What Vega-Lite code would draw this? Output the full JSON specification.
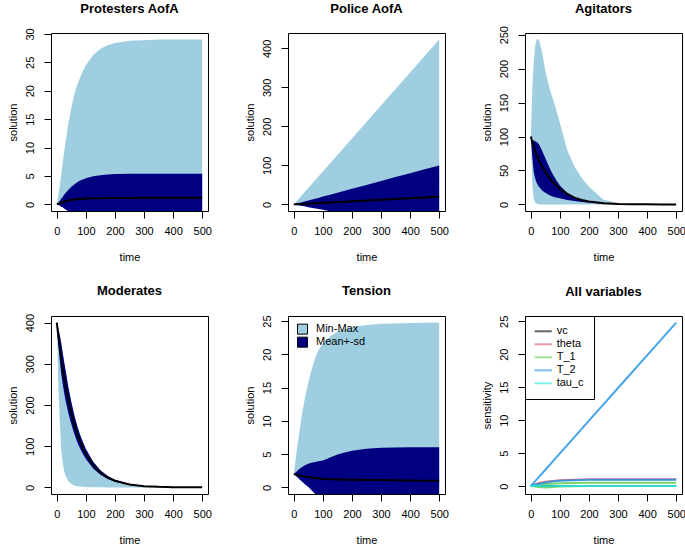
{
  "$schema": "https://vega.github.io/schema/vega-lite/v6.json",
  "autosize": {"type": "none"},
  "padding": {"left": 51, "top": 33, "right": 634, "bottom": 513},
  "background": "white",
  "bounds": "flush",
  "columns": 3,
  "spacing": {"row": 105, "column": 80},
  "resolve": {"scale": {"color": "independent"}, "legend": {"color": "independent"}},
  "datasets": {
    "p1": [
      {"t":0,"mn":0,"mx":0,"lo":0,"hi":0,"m":0},
      {"t":5,"mn":0,"mx":1.5,"lo":-0.1,"hi":0.3,"m":0.1},
      {"t":10,"mn":0,"mx":3.2,"lo":-0.2,"hi":0.6,"m":0.2},
      {"t":15,"mn":0,"mx":5.2,"lo":-0.4,"hi":1.0,"m":0.3},
      {"t":20,"mn":0,"mx":7.2,"lo":-0.5,"hi":1.3,"m":0.4},
      {"t":25,"mn":0,"mx":9.2,"lo":-0.74,"hi":1.7,"m":0.48},
      {"t":30,"mn":0,"mx":11,"lo":-0.9,"hi":2.0,"m":0.55},
      {"t":40,"mn":0,"mx":14.3,"lo":-1.2,"hi":2.6,"m":0.7},
      {"t":50,"mn":0,"mx":17,"lo":-1.5,"hi":3.1,"m":0.8},
      {"t":60,"mn":0,"mx":19.3,"lo":-1.76,"hi":3.5,"m":0.87},
      {"t":70,"mn":0,"mx":21,"lo":-2.06,"hi":3.9,"m":0.92},
      {"t":80,"mn":0,"mx":22.3,"lo":-2.26,"hi":4.2,"m":0.97},
      {"t":90,"mn":0,"mx":23.5,"lo":-2.4,"hi":4.4,"m":1.0},
      {"t":100,"mn":0,"mx":24.5,"lo":-2.54,"hi":4.6,"m":1.03},
      {"t":125,"mn":0,"mx":26.3,"lo":-2.81,"hi":4.95,"m":1.07},
      {"t":150,"mn":0,"mx":27.4,"lo":-2.95,"hi":5.15,"m":1.1},
      {"t":175,"mn":0,"mx":28,"lo":-3.01,"hi":5.25,"m":1.12},
      {"t":200,"mn":0,"mx":28.4,"lo":-3.09,"hi":5.35,"m":1.13},
      {"t":250,"mn":0,"mx":28.8,"lo":-3.12,"hi":5.4,"m":1.14},
      {"t":300,"mn":0,"mx":28.9,"lo":-3.1,"hi":5.4,"m":1.15},
      {"t":350,"mn":0,"mx":29,"lo":-3.1,"hi":5.4,"m":1.15},
      {"t":400,"mn":0,"mx":29,"lo":-3.1,"hi":5.4,"m":1.15},
      {"t":450,"mn":0,"mx":29,"lo":-3.1,"hi":5.4,"m":1.15},
      {"t":500,"mn":0,"mx":29,"lo":-3.1,"hi":5.4,"m":1.15}
    ],
    "p2": [
      {"t":0,"mn":0,"mx":0,"lo":0,"hi":0,"m":0},
      {"t":5,"mn":0,"mx":4.2,"lo":-0.7,"hi":1,"m":0.2},
      {"t":10,"mn":0,"mx":8.5,"lo":-1.4,"hi":2,"m":0.4},
      {"t":15,"mn":0,"mx":12.7,"lo":-2.1,"hi":3,"m":0.6},
      {"t":20,"mn":0,"mx":16.9,"lo":-2.8,"hi":4,"m":0.8},
      {"t":25,"mn":0,"mx":21.1,"lo":-3.5,"hi":5,"m":1},
      {"t":30,"mn":0,"mx":25.4,"lo":-4.2,"hi":6,"m":1.2},
      {"t":40,"mn":0,"mx":33.8,"lo":-5.6,"hi":8,"m":1.6},
      {"t":50,"mn":0,"mx":42.3,"lo":-7,"hi":10,"m":2},
      {"t":60,"mn":0,"mx":50.7,"lo":-8.4,"hi":12,"m":2.4},
      {"t":70,"mn":0,"mx":59.2,"lo":-9.8,"hi":14,"m":2.8},
      {"t":80,"mn":0,"mx":67.6,"lo":-11.2,"hi":16,"m":3.2},
      {"t":90,"mn":0,"mx":76.1,"lo":-12.6,"hi":18,"m":3.6},
      {"t":100,"mn":0,"mx":84.5,"lo":-14,"hi":20,"m":4},
      {"t":125,"mn":0,"mx":105.6,"lo":-17.5,"hi":25,"m":5},
      {"t":150,"mn":0,"mx":126.8,"lo":-21,"hi":30,"m":6},
      {"t":175,"mn":0,"mx":147.9,"lo":-24.5,"hi":35,"m":7},
      {"t":200,"mn":0,"mx":169,"lo":-28,"hi":40,"m":8},
      {"t":250,"mn":0,"mx":211.3,"lo":-35,"hi":50,"m":10},
      {"t":300,"mn":0,"mx":253.5,"lo":-42,"hi":60,"m":12},
      {"t":350,"mn":0,"mx":295.8,"lo":-49,"hi":70,"m":14},
      {"t":400,"mn":0,"mx":338,"lo":-56,"hi":80,"m":16},
      {"t":450,"mn":0,"mx":380.3,"lo":-63,"hi":90,"m":18},
      {"t":500,"mn":0,"mx":422.5,"lo":-70,"hi":100,"m":20}
    ],
    "p3": [
      {"t":0,"mn":100,"mx":100,"lo":100,"hi":100,"m":100},
      {"t":5,"mn":30,"mx":170,"lo":70,"hi":95,"m":92},
      {"t":10,"mn":8,"mx":210,"lo":48,"hi":94,"m":85},
      {"t":15,"mn":3,"mx":233,"lo":38,"hi":93,"m":79},
      {"t":20,"mn":1,"mx":243,"lo":32,"hi":92,"m":73},
      {"t":25,"mn":0.5,"mx":244,"lo":28,"hi":90,"m":68},
      {"t":30,"mn":0,"mx":240,"lo":25,"hi":87,"m":63},
      {"t":40,"mn":0,"mx":222,"lo":20,"hi":78,"m":55},
      {"t":50,"mn":0,"mx":197,"lo":17,"hi":68,"m":48},
      {"t":60,"mn":0,"mx":178,"lo":14.5,"hi":58,"m":42},
      {"t":70,"mn":0,"mx":163,"lo":12.5,"hi":49,"m":36},
      {"t":80,"mn":0,"mx":150,"lo":11,"hi":41,"m":31},
      {"t":90,"mn":0,"mx":135,"lo":10,"hi":34,"m":27},
      {"t":100,"mn":0,"mx":120,"lo":9,"hi":28,"m":23},
      {"t":125,"mn":0,"mx":80,"lo":6.5,"hi":17,"m":15.5},
      {"t":150,"mn":0,"mx":56,"lo":5,"hi":10.5,"m":10},
      {"t":175,"mn":0,"mx":39,"lo":3.5,"hi":7,"m":6.5},
      {"t":200,"mn":0,"mx":26,"lo":2.5,"hi":4.5,"m":4.2},
      {"t":250,"mn":0,"mx":7,"lo":1,"hi":1.8,"m":1.8},
      {"t":300,"mn":0,"mx":1.8,"lo":0.4,"hi":0.7,"m":0.7},
      {"t":350,"mn":0,"mx":0.4,"lo":0.1,"hi":0.2,"m":0.25},
      {"t":400,"mn":0,"mx":0.1,"lo":0,"hi":0.1,"m":0.1},
      {"t":450,"mn":0,"mx":0,"lo":0,"hi":0,"m":0},
      {"t":500,"mn":0,"mx":0,"lo":0,"hi":0,"m":0}
    ],
    "p4": [
      {"t":0,"mn":400,"mx":400,"lo":400,"hi":400,"m":400},
      {"t":5,"mn":255,"mx":386.4,"lo":349.6,"hi":386.4,"m":368},
      {"t":10,"mn":165,"mx":370.6,"lo":309.4,"hi":370.6,"m":340},
      {"t":15,"mn":90,"mx":351.7,"lo":276.3,"hi":351.7,"m":314},
      {"t":20,"mn":60,"mx":327.7,"lo":252.3,"hi":327.7,"m":290},
      {"t":25,"mn":40,"mx":305.5,"lo":230.5,"hi":305.5,"m":268},
      {"t":30,"mn":28,"mx":285.2,"lo":210.8,"hi":285.2,"m":248},
      {"t":40,"mn":15,"mx":242.7,"lo":179.4,"hi":242.7,"m":211},
      {"t":50,"mn":8,"mx":207,"lo":153,"hi":207,"m":180},
      {"t":60,"mn":4.5,"mx":176,"lo":130,"hi":176,"m":153},
      {"t":70,"mn":3,"mx":149.5,"lo":110.5,"hi":149.5,"m":130},
      {"t":80,"mn":2,"mx":127.7,"lo":94.4,"hi":127.7,"m":111},
      {"t":90,"mn":1.3,"mx":109.3,"lo":80.8,"hi":109.3,"m":95},
      {"t":100,"mn":0.8,"mx":93.2,"lo":68.9,"hi":93.2,"m":81},
      {"t":125,"mn":0.3,"mx":62.1,"lo":45.9,"hi":62.1,"m":54},
      {"t":150,"mn":0.1,"mx":41.4,"lo":30.6,"hi":41.4,"m":36},
      {"t":175,"mn":0,"mx":27.6,"lo":20.4,"hi":27.6,"m":24},
      {"t":200,"mn":0,"mx":18.4,"lo":13.6,"hi":18.4,"m":16},
      {"t":250,"mn":0,"mx":8.05,"lo":5.95,"hi":8.05,"m":7},
      {"t":300,"mn":0,"mx":3.45,"lo":2.55,"hi":3.45,"m":3},
      {"t":350,"mn":0,"mx":1.5,"lo":1.1,"hi":1.5,"m":1.3},
      {"t":400,"mn":0,"mx":0.69,"lo":0.51,"hi":0.69,"m":0.6},
      {"t":450,"mn":0,"mx":0.35,"lo":0.25,"hi":0.35,"m":0.3},
      {"t":500,"mn":0,"mx":0.12,"lo":0.08,"hi":0.12,"m":0.1}
    ],
    "p5": [
      {"t":0,"mn":2,"mx":2,"lo":2,"hi":2,"m":2},
      {"t":5,"mn":1.8,"mx":3.8,"lo":1.8,"hi":2.2,"m":1.95},
      {"t":10,"mn":1.6,"mx":5.5,"lo":1.6,"hi":2.4,"m":1.9},
      {"t":15,"mn":1.4,"mx":7.1,"lo":1.4,"hi":2.6,"m":1.85},
      {"t":20,"mn":1.2,"mx":8.6,"lo":1.2,"hi":2.8,"m":1.8},
      {"t":25,"mn":1.0,"mx":10.1,"lo":1.0,"hi":2.95,"m":1.75},
      {"t":30,"mn":0.8,"mx":11.5,"lo":0.8,"hi":3.1,"m":1.7},
      {"t":40,"mn":0.4,"mx":13.8,"lo":0.4,"hi":3.35,"m":1.62},
      {"t":50,"mn":0.05,"mx":15.8,"lo":0.05,"hi":3.55,"m":1.55},
      {"t":60,"mn":0,"mx":17.5,"lo":-0.4,"hi":3.7,"m":1.48},
      {"t":70,"mn":0,"mx":19,"lo":-0.85,"hi":3.8,"m":1.43},
      {"t":80,"mn":0,"mx":20.2,"lo":-1.3,"hi":3.9,"m":1.38},
      {"t":90,"mn":0,"mx":21,"lo":-1.5,"hi":3.97,"m":1.33},
      {"t":100,"mn":0,"mx":21.6,"lo":-1.6,"hi":4.05,"m":1.28},
      {"t":125,"mn":0,"mx":22.7,"lo":-2,"hi":4.5,"m":1.22},
      {"t":150,"mn":0,"mx":23.4,"lo":-2.5,"hi":4.95,"m":1.2},
      {"t":175,"mn":0,"mx":23.8,"lo":-2.9,"hi":5.25,"m":1.17},
      {"t":200,"mn":0,"mx":24.1,"lo":-3.2,"hi":5.5,"m":1.15},
      {"t":250,"mn":0,"mx":24.4,"lo":-3.5,"hi":5.8,"m":1.12},
      {"t":300,"mn":0,"mx":24.6,"lo":-3.7,"hi":5.95,"m":1.1},
      {"t":350,"mn":0,"mx":24.65,"lo":-3.8,"hi":6.0,"m":1.08},
      {"t":400,"mn":0,"mx":24.7,"lo":-3.9,"hi":6.05,"m":1.05},
      {"t":450,"mn":0,"mx":24.75,"lo":-4,"hi":6.05,"m":1.02},
      {"t":500,"mn":0,"mx":24.77,"lo":-4,"hi":6.05,"m":1.0}
    ],
    "p6": [
      {"param":"vc","sid":"vc","t":0,"s":0},{"param":"vc","sid":"vc","t":25,"s":0},{"param":"vc","sid":"vc","t":50,"s":0},{"param":"vc","sid":"vc","t":75,"s":0},{"param":"vc","sid":"vc","t":100,"s":0},{"param":"vc","sid":"vc","t":150,"s":0},{"param":"vc","sid":"vc","t":200,"s":0},{"param":"vc","sid":"vc","t":250,"s":0},{"param":"vc","sid":"vc","t":300,"s":0},{"param":"vc","sid":"vc","t":400,"s":0},{"param":"vc","sid":"vc","t":500,"s":0},
      {"param":"theta","sid":"theta","t":0,"s":0},{"param":"theta","sid":"theta","t":25,"s":0.45},{"param":"theta","sid":"theta","t":50,"s":0.65},{"param":"theta","sid":"theta","t":75,"s":0.78},{"param":"theta","sid":"theta","t":100,"s":0.87},{"param":"theta","sid":"theta","t":150,"s":0.97},{"param":"theta","sid":"theta","t":200,"s":1.02},{"param":"theta","sid":"theta","t":250,"s":1.04},{"param":"theta","sid":"theta","t":300,"s":1.05},{"param":"theta","sid":"theta","t":400,"s":1.05},{"param":"theta","sid":"theta","t":500,"s":1.05},
      {"param":"T_1","sid":"T_1a","t":0,"s":0},{"param":"T_1","sid":"T_1a","t":25,"s":0.2},{"param":"T_1","sid":"T_1a","t":50,"s":0.3},{"param":"T_1","sid":"T_1a","t":75,"s":0.37},{"param":"T_1","sid":"T_1a","t":100,"s":0.42},{"param":"T_1","sid":"T_1a","t":150,"s":0.47},{"param":"T_1","sid":"T_1a","t":200,"s":0.49},{"param":"T_1","sid":"T_1a","t":250,"s":0.5},{"param":"T_1","sid":"T_1a","t":300,"s":0.5},{"param":"T_1","sid":"T_1a","t":400,"s":0.5},{"param":"T_1","sid":"T_1a","t":500,"s":0.5},
      {"param":"T_1","sid":"T_1b","t":0,"s":0},{"param":"T_1","sid":"T_1b","t":25,"s":-0.15},{"param":"T_1","sid":"T_1b","t":50,"s":-0.2},{"param":"T_1","sid":"T_1b","t":75,"s":-0.15},{"param":"T_1","sid":"T_1b","t":100,"s":-0.08},{"param":"T_1","sid":"T_1b","t":150,"s":-0.03},{"param":"T_1","sid":"T_1b","t":200,"s":0},{"param":"T_1","sid":"T_1b","t":250,"s":0},{"param":"T_1","sid":"T_1b","t":300,"s":0},{"param":"T_1","sid":"T_1b","t":400,"s":0},{"param":"T_1","sid":"T_1b","t":500,"s":0},
      {"param":"T_2","sid":"T_2a","t":0,"s":0},{"param":"T_2","sid":"T_2a","t":25,"s":1.24},{"param":"T_2","sid":"T_2a","t":50,"s":2.48},{"param":"T_2","sid":"T_2a","t":75,"s":3.72},{"param":"T_2","sid":"T_2a","t":100,"s":4.96},{"param":"T_2","sid":"T_2a","t":150,"s":7.44},{"param":"T_2","sid":"T_2a","t":200,"s":9.92},{"param":"T_2","sid":"T_2a","t":250,"s":12.4},{"param":"T_2","sid":"T_2a","t":300,"s":14.88},{"param":"T_2","sid":"T_2a","t":400,"s":19.84},{"param":"T_2","sid":"T_2a","t":500,"s":24.8},
      {"param":"T_2","sid":"T_2b","t":0,"s":0},{"param":"T_2","sid":"T_2b","t":25,"s":0.3},{"param":"T_2","sid":"T_2b","t":50,"s":0.55},{"param":"T_2","sid":"T_2b","t":75,"s":0.7},{"param":"T_2","sid":"T_2b","t":100,"s":0.8},{"param":"T_2","sid":"T_2b","t":150,"s":0.9},{"param":"T_2","sid":"T_2b","t":200,"s":0.95},{"param":"T_2","sid":"T_2b","t":250,"s":0.97},{"param":"T_2","sid":"T_2b","t":300,"s":0.98},{"param":"T_2","sid":"T_2b","t":400,"s":0.98},{"param":"T_2","sid":"T_2b","t":500,"s":0.98},
      {"param":"tau_c","sid":"tau_c","t":0,"s":0},{"param":"tau_c","sid":"tau_c","t":25,"s":0.02},{"param":"tau_c","sid":"tau_c","t":50,"s":0.02},{"param":"tau_c","sid":"tau_c","t":75,"s":0.02},{"param":"tau_c","sid":"tau_c","t":100,"s":0.02},{"param":"tau_c","sid":"tau_c","t":150,"s":0.02},{"param":"tau_c","sid":"tau_c","t":200,"s":0.02},{"param":"tau_c","sid":"tau_c","t":250,"s":0.02},{"param":"tau_c","sid":"tau_c","t":300,"s":0.02},{"param":"tau_c","sid":"tau_c","t":400,"s":0.02},{"param":"tau_c","sid":"tau_c","t":500,"s":0.02}
    ]
  },
  "concat": [
    {
      "title": {"text": "Protesters AofA", "offset": 11.8},
      "width": 157, "height": 178,
      "data": {"name": "p1"},
      "encoding": {"x": {"field": "t", "type": "quantitative", "title": "time", "scale": {"domain": [-20, 520], "nice": false, "zero": false}, "axis": {"values": [0, 100, 200, 300, 400, 500]}}},
      "layer": [
        {"mark": {"type": "area", "color": "#9ECEE0", "opacity": 1, "clip": true},
         "encoding": {"y": {"field": "mn", "type": "quantitative", "title": "solution", "scale": {"domain": [-1.16, 30.16], "nice": false, "zero": false}, "axis": {"values": [0, 5, 10, 15, 20, 25, 30]}}, "y2": {"field": "mx"}}},
        {"mark": {"type": "area", "color": "#000080", "opacity": 1, "clip": true},
         "encoding": {"y": {"field": "lo", "type": "quantitative", "title": "solution", "scale": {"domain": [-1.16, 30.16], "nice": false, "zero": false}, "axis": {"values": [0, 5, 10, 15, 20, 25, 30]}}, "y2": {"field": "hi"}}},
        {"mark": {"type": "line", "color": "black", "strokeWidth": 2, "clip": true},
         "encoding": {"y": {"field": "m", "type": "quantitative", "title": "solution", "scale": {"domain": [-1.16, 30.16], "nice": false, "zero": false}, "axis": {"values": [0, 5, 10, 15, 20, 25, 30]}}}}
      ]
    },
    {
      "title": {"text": "Police AofA", "offset": 17},
      "width": 157, "height": 178,
      "data": {"name": "p2"},
      "encoding": {"x": {"field": "t", "type": "quantitative", "title": "time", "scale": {"domain": [-20, 520], "nice": false, "zero": false}, "axis": {"values": [0, 100, 200, 300, 400, 500]}}},
      "layer": [
        {"mark": {"type": "area", "color": "#9ECEE0", "opacity": 1, "clip": true},
         "encoding": {"y": {"field": "mn", "type": "quantitative", "title": "solution", "scale": {"domain": [-16.9, 439.4], "nice": false, "zero": false}, "axis": {"values": [0, 100, 200, 300, 400]}}, "y2": {"field": "mx"}}},
        {"mark": {"type": "area", "color": "#000080", "opacity": 1, "clip": true},
         "encoding": {"y": {"field": "lo", "type": "quantitative", "title": "solution", "scale": {"domain": [-16.9, 439.4], "nice": false, "zero": false}, "axis": {"values": [0, 100, 200, 300, 400]}}, "y2": {"field": "hi"}}},
        {"mark": {"type": "line", "color": "black", "strokeWidth": 2, "clip": true},
         "encoding": {"y": {"field": "m", "type": "quantitative", "title": "solution", "scale": {"domain": [-16.9, 439.4], "nice": false, "zero": false}, "axis": {"values": [0, 100, 200, 300, 400]}}}}
      ]
    },
    {
      "title": {"text": "Agitators", "offset": 9.5},
      "width": 157, "height": 178,
      "data": {"name": "p3"},
      "encoding": {"x": {"field": "t", "type": "quantitative", "title": "time", "scale": {"domain": [-20, 520], "nice": false, "zero": false}, "axis": {"values": [0, 100, 200, 300, 400, 500]}}},
      "layer": [
        {"mark": {"type": "area", "color": "#9ECEE0", "opacity": 1, "clip": true},
         "encoding": {"y": {"field": "mn", "type": "quantitative", "title": "solution", "scale": {"domain": [-9.7, 252.5], "nice": false, "zero": false}, "axis": {"values": [0, 50, 100, 150, 200, 250]}}, "y2": {"field": "mx"}}},
        {"mark": {"type": "area", "color": "#000080", "opacity": 1, "clip": true},
         "encoding": {"y": {"field": "lo", "type": "quantitative", "title": "solution", "scale": {"domain": [-9.7, 252.5], "nice": false, "zero": false}, "axis": {"values": [0, 50, 100, 150, 200, 250]}}, "y2": {"field": "hi"}}},
        {"mark": {"type": "line", "color": "black", "strokeWidth": 2, "clip": true},
         "encoding": {"y": {"field": "m", "type": "quantitative", "title": "solution", "scale": {"domain": [-9.7, 252.5], "nice": false, "zero": false}, "axis": {"values": [0, 50, 100, 150, 200, 250]}}}}
      ]
    },
    {
      "title": {"text": "Moderates", "offset": 15},
      "width": 157, "height": 178,
      "data": {"name": "p4"},
      "encoding": {"x": {"field": "t", "type": "quantitative", "title": "time", "scale": {"domain": [-20, 520], "nice": false, "zero": false}, "axis": {"values": [0, 100, 200, 300, 400, 500]}}},
      "layer": [
        {"mark": {"type": "area", "color": "#9ECEE0", "opacity": 1, "clip": true},
         "encoding": {"y": {"field": "mn", "type": "quantitative", "title": "solution", "scale": {"domain": [-16, 416], "nice": false, "zero": false}, "axis": {"values": [0, 100, 200, 300, 400]}}, "y2": {"field": "mx"}}},
        {"mark": {"type": "area", "color": "#000080", "opacity": 1, "clip": true},
         "encoding": {"y": {"field": "lo", "type": "quantitative", "title": "solution", "scale": {"domain": [-16, 416], "nice": false, "zero": false}, "axis": {"values": [0, 100, 200, 300, 400]}}, "y2": {"field": "hi"}}},
        {"mark": {"type": "line", "color": "black", "strokeWidth": 2, "clip": true},
         "encoding": {"y": {"field": "m", "type": "quantitative", "title": "solution", "scale": {"domain": [-16, 416], "nice": false, "zero": false}, "axis": {"values": [0, 100, 200, 300, 400]}}}}
      ]
    },
    {
      "title": {"text": "Tension", "offset": 16.5},
      "width": 157, "height": 178,
      "data": {"name": "p5"},
      "encoding": {"x": {"field": "t", "type": "quantitative", "title": "time", "scale": {"domain": [-20, 520], "nice": false, "zero": false}, "axis": {"values": [0, 100, 200, 300, 400, 500]}}},
      "layer": [
        {"mark": {"type": "area", "opacity": 1, "clip": true},
         "encoding": {"y": {"field": "mn", "type": "quantitative", "title": "solution", "scale": {"domain": [-0.99, 25.76], "nice": false, "zero": false}, "axis": {"values": [0, 5, 10, 15, 20, 25]}}, "y2": {"field": "mx"},
           "color": {"datum": "Min-Max", "type": "nominal", "scale": {"domain": ["Min-Max", "Mean+-sd"], "range": ["#9ECEE0", "#000080"]},
             "legend": {"title": null, "orient": "top-left", "offset": 0, "padding": 7, "clipHeight": 12.3, "symbolType": "square", "symbolSize": 100, "symbolStrokeColor": "black", "symbolStrokeWidth": 1, "symbolOpacity": 1, "symbolOffset": 2, "labelOffset": 8, "rowPadding": 0, "labelFontSize": 11, "labelFont": "Liberation Sans", "labelColor": "black"}}}},
        {"mark": {"type": "area", "opacity": 1, "clip": true},
         "encoding": {"y": {"field": "lo", "type": "quantitative", "title": "solution", "scale": {"domain": [-0.99, 25.76], "nice": false, "zero": false}, "axis": {"values": [0, 5, 10, 15, 20, 25]}}, "y2": {"field": "hi"}, "color": {"datum": "Mean+-sd", "type": "nominal"}}},
        {"mark": {"type": "line", "color": "black", "strokeWidth": 2, "clip": true},
         "encoding": {"y": {"field": "m", "type": "quantitative", "title": "solution", "scale": {"domain": [-0.99, 25.76], "nice": false, "zero": false}, "axis": {"values": [0, 5, 10, 15, 20, 25]}}}}
      ]
    },
    {
      "title": {"text": "All variables", "offset": 16.5},
      "width": 157, "height": 178,
      "data": {"name": "p6"},
      "mark": {"type": "line", "strokeWidth": 2, "opacity": 0.85, "clip": true},
      "encoding": {
        "x": {"field": "t", "type": "quantitative", "title": "time", "scale": {"domain": [-20, 520], "nice": false, "zero": false}, "axis": {"values": [0, 100, 200, 300, 400, 500]}},
        "y": {"field": "s", "type": "quantitative", "title": "sensitivity", "scale": {"domain": [-1.2, 25.8], "nice": false, "zero": false}, "axis": {"values": [0, 5, 10, 15, 20, 25]}},
        "detail": {"field": "sid", "type": "nominal"},
        "color": {"field": "param", "type": "nominal",
          "scale": {"domain": ["vc", "theta", "T_1", "T_2", "tau_c"], "range": ["#000000", "#DF536B", "#61D04F", "#2297E6", "#28E2E5"]},
          "legend": {"title": null, "orient": "top-left", "offset": 0, "padding": 9.6, "clipHeight": 11.4, "strokeColor": "black", "fillColor": "white", "symbolType": "stroke", "symbolSize": 441, "symbolStrokeWidth": 2, "symbolOpacity": 0.6, "symbolOffset": -4.8, "labelOffset": 3.9, "rowPadding": 0, "labelFontSize": 11, "labelFont": "Liberation Sans", "labelColor": "black"}}
      }
    }
  ],
  "config": {
    "font": "Liberation Sans",
    "view": {"stroke": "black", "strokeWidth": 1},
    "axis": {"domain": false, "grid": false, "tickColor": "black", "tickSize": 7, "tickWidth": 1,
      "labelFont": "Liberation Sans", "labelFontSize": 11, "labelColor": "black",
      "titleFont": "Liberation Sans", "titleFontSize": 11, "titleFontWeight": "normal", "titleColor": "black",
      "labelFlush": false, "labelOverlap": false},
    "axisX": {"labelPadding": 7, "titleY": 46, "titleBaseline": "middle"},
    "axisY": {"labelAngle": 270, "labelAlign": "center", "labelBaseline": "bottom", "labelPadding": 9, "titleX": -38, "titleBaseline": "middle"},
    "title": {"font": "Liberation Sans", "fontSize": 13, "fontWeight": "bold", "color": "black", "anchor": "middle", "frame": "group", "baseline": "alphabetic"}
  }
}
